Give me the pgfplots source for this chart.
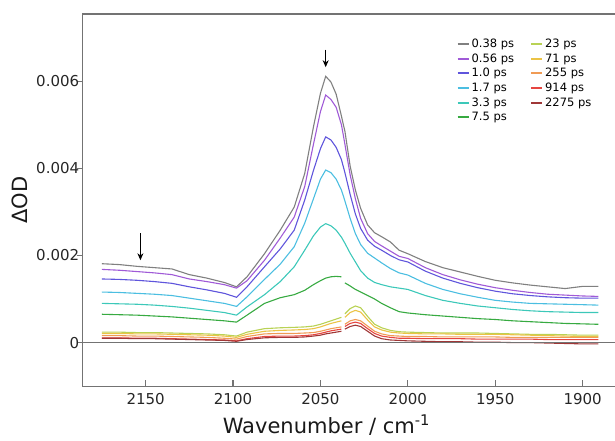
\documentclass[border=0pt]{standalone}
\usepackage{fontspec}
\setmainfont{DejaVu Sans}
\usepackage{pgfplots}
\pgfplotsset{compat=1.18}
\usepackage{pgfplotstable}
\usetikzlibrary{arrows.meta}

\definecolor{cA}{RGB}{128,128,128}
\definecolor{cB}{RGB}{160,90,215}
\definecolor{cC}{RGB}{95,85,220}
\definecolor{cD}{RGB}{75,190,225}
\definecolor{cE}{RGB}{60,200,185}
\definecolor{cF}{RGB}{55,170,65}
\definecolor{cG}{RGB}{185,210,85}
\definecolor{cH}{RGB}{235,195,70}
\definecolor{cI}{RGB}{240,155,85}
\definecolor{cJ}{RGB}{230,70,65}
\definecolor{cK}{RGB}{160,55,55}
\definecolor{frame}{RGB}{115,115,115}

% transient IR spectra, one column per delay
\pgfplotstableread{
x     a       b       c       d       e       f       g       h       i       j       k
2175  0.00181 0.00168 0.00146 0.00116 0.00090 0.00065 0.00024 0.00021 0.00016 0.00011 0.00010
2165  0.00179 0.00166 0.00145 0.00115 0.00089 0.00064 0.00024 0.00021 0.00016 0.00011 0.00010
2155  0.00175 0.00163 0.00143 0.00113 0.00088 0.00063 0.00023 0.00020 0.00015 0.00010 0.00009
2145  0.00172 0.00160 0.00140 0.00111 0.00086 0.00061 0.00023 0.00020 0.00015 0.00010 0.00009
2135  0.00169 0.00156 0.00136 0.00108 0.00083 0.00059 0.00022 0.00019 0.00014 0.00009 0.00008
2125  0.00156 0.00146 0.00128 0.00102 0.00079 0.00056 0.00021 0.00018 0.00013 0.00008 0.00007
2115  0.00148 0.00140 0.00121 0.00096 0.00074 0.00053 0.00020 0.00017 0.00012 0.00007 0.00006
2105  0.00138 0.00133 0.00113 0.00090 0.00069 0.00050 0.00018 0.00015 0.00010 0.00006 0.00005
2098  0.00128 0.00125 0.00104 0.00083 0.00063 0.00047 0.00015 0.00012 0.00008 0.00004 0.00003
2092  0.00151 0.00142 0.00128 0.00105 0.00082 0.00063 0.00024 0.00019 0.00014 0.00009 0.00007
2082  0.00204 0.00189 0.00174 0.00145 0.00110 0.00090 0.00032 0.00026 0.00020 0.00014 0.00011
2073  0.00258 0.00240 0.00215 0.00180 0.00140 0.00103 0.00034 0.00028 0.00021 0.00015 0.00012
2065  0.00311 0.00288 0.00258 0.00220 0.00174 0.00110 0.00035 0.00029 0.00021 0.00015 0.00012
2059  0.00388 0.00358 0.00327 0.00274 0.00212 0.00120 0.00036 0.00030 0.00022 0.00016 0.00013
2054  0.00495 0.00455 0.00395 0.00330 0.00245 0.00133 0.00038 0.00032 0.00023 0.00018 0.00015
2050  0.00572 0.00530 0.00445 0.00375 0.00265 0.00142 0.00042 0.00036 0.00026 0.00021 0.00017
2047  0.00611 0.00568 0.00472 0.00396 0.00273 0.00148 0.00046 0.00040 0.00029 0.00024 0.00020
2044  0.00598 0.00558 0.00465 0.00390 0.00268 0.00151 0.00050 0.00044 0.00032 0.00027 0.00022
2041  0.00570 0.00540 0.00448 0.00375 0.00258 0.00152 0.00054 0.00047 0.00034 0.00029 0.00024
2038  0.00520 0.00500 0.00420 0.00350 0.00242 0.00151 0.00058 0.00050 0.00036 0.00031 0.00026
2037  0.00502 0.00478 0.00405 0.00338 0.00235 nan     nan     nan     nan     nan     nan
2036  0.00485 0.00455 0.00390 0.00325 0.00228 0.00137 0.00066 0.00058 0.00042 0.00037 0.00031
2033  0.00405 0.00385 0.00340 0.00285 0.00205 0.00130 0.00078 0.00069 0.00050 0.00044 0.00037
2030  0.00350 0.00330 0.00295 0.00250 0.00185 0.00122 0.00084 0.00074 0.00053 0.00047 0.00040
2027  0.00308 0.00285 0.00262 0.00225 0.00165 0.00116 0.00080 0.00070 0.00050 0.00044 0.00037
2023  0.00270 0.00250 0.00235 0.00205 0.00148 0.00108 0.00060 0.00052 0.00038 0.00032 0.00026
2019  0.00252 0.00232 0.00221 0.00194 0.00138 0.00100 0.00042 0.00036 0.00026 0.00021 0.00015
2015  0.00243 0.00222 0.00212 0.00183 0.00133 0.00090 0.00034 0.00029 0.00020 0.00015 0.00009
2010  0.00231 0.00210 0.00200 0.00170 0.00128 0.00080 0.00028 0.00024 0.00016 0.00012 0.00006
2005  0.00212 0.00198 0.00190 0.00160 0.00125 0.00071 0.00025 0.00022 0.00015 0.00010 0.00005
2000  0.00204 0.00193 0.00185 0.00155 0.00122 0.00068 0.00024 0.00021 0.00014 0.00010 0.00004
1990  0.00186 0.00172 0.00164 0.00136 0.00108 0.00064 0.00023 0.00020 0.00014 0.00009 0.00003
1980  0.00172 0.00156 0.00148 0.00122 0.00097 0.00061 0.00022 0.00020 0.00013 0.00009 0.00002
1970  0.00162 0.00144 0.00136 0.00112 0.00090 0.00058 0.00022 0.00019 0.00013 0.00009 0.00002
1960  0.00152 0.00134 0.00126 0.00104 0.00084 0.00055 0.00022 0.00019 0.00013 0.00008 0.00001
1950  0.00143 0.00126 0.00118 0.00097 0.00080 0.00053 0.00021 0.00019 0.00013 0.00008 0.00001
1940  0.00137 0.00120 0.00112 0.00093 0.00076 0.00050 0.00020 0.00018 0.00012 0.00008 0.00000
1930  0.00132 0.00115 0.00108 0.00090 0.00073 0.00048 0.00019 0.00017 0.00012 0.00008 0.00000
1920  0.00128 0.00111 0.00105 0.00089 0.00071 0.00046 0.00019 0.00016 0.00012 0.00007 -0.00001
1910  0.00124 0.00109 0.00103 0.00088 0.00070 0.00044 0.00018 0.00015 0.00012 0.00007 -0.00002
1900  0.00129 0.00107 0.00102 0.00087 0.00069 0.00043 0.00017 0.00014 0.00012 0.00007 -0.00003
1891  0.00129 0.00106 0.00102 0.00086 0.00069 0.00042 0.00017 0.00014 0.00012 0.00007 -0.00003
}\spectra

\begin{document}
\begin{tikzpicture}
\begin{axis}[
  scale only axis,
  width=533pt, height=372pt,
  x dir=reverse,
  xmin=1880.9, xmax=2186,
  ymin=-0.001, ymax=0.00754,
  axis line style={frame, line width=1.3pt},
  tick style={frame, line width=1.1pt},
  tick align=inside,
  major tick length=6pt,
  xtick pos=bottom, ytick pos=left,
  y tick style={xshift=-6pt},
  xtick={1900,1950,2000,2050,2100,2150},
  ytick={0,0.002,0.004,0.006},
  yticklabels={0,0.002,0.004,0.006},
  scaled y ticks=false,
  /pgf/number format/1000 sep={},
  /pgf/number format/assume math mode=true,
  tick label style={font=\fontsize{15}{18}\selectfont, text=black!85},
  xticklabel style={yshift=-4pt},
  xlabel={Wavenumber / cm\textsuperscript{-1}},
  ylabel={ΔOD},
  label style={font=\fontsize{21}{25}\selectfont, text=black!90},
  xlabel style={at={(axis description cs:0.457,0)}, anchor=base, yshift=-47pt},
  ylabel style={at={(axis description cs:-0.1175,0.5)}, anchor=center},
  unbounded coords=jump,
  legend cell align=left,
  legend columns=2,
  legend image code/.code={\draw[#1, line width=2pt] (0pt,0pt) -- (11pt,0pt);},
  legend style={draw=none, fill=none, font=\fontsize{11.5}{13}\selectfont,
    at={(axis description cs:0.695,0.944)}, anchor=north west,
    row sep=0.6pt,
    /tikz/every even column/.append style={column sep=14pt}},
  every axis plot/.append style={line width=1.1pt},
]
% plotted in legend order (row by row, two columns)
\addplot[cA] table[y=a] {\spectra};
\addlegendentry{0.38 ps}
\addplot[cG] table[y=g] {\spectra};
\addlegendentry{23 ps}
\addplot[cB] table[y=b] {\spectra};
\addlegendentry{0.56 ps}
\addplot[cH] table[y=h] {\spectra};
\addlegendentry{71 ps}
\addplot[cC] table[y=c] {\spectra};
\addlegendentry{1.0 ps}
\addplot[cI] table[y=i] {\spectra};
\addlegendentry{255 ps}
\addplot[cD] table[y=d] {\spectra};
\addlegendentry{1.7 ps}
\addplot[cJ] table[y=j] {\spectra};
\addlegendentry{914 ps}
\addplot[cE] table[y=e] {\spectra};
\addlegendentry{3.3 ps}
\addplot[cK] table[y=k] {\spectra};
\addlegendentry{2275 ps}
\addplot[cF] table[y=f] {\spectra};
\addlegendentry{7.5 ps}
% zero line
\addplot[frame, line width=0.9pt, forget plot] coordinates {(2186,0) (1880.9,0)};
% arrows marking the probed positions
\draw[-{Stealth[length=7pt,width=6pt]}, line width=1pt] (axis cs:2153,0.00251) -- (axis cs:2153,0.00189);
\draw[-{Stealth[length=7pt,width=6pt]}, line width=1pt] (axis cs:2047,0.00672) -- (axis cs:2047,0.00632);
\end{axis}
\pgfresetboundingbox
\path[use as bounding box] ([shift={(-82.7pt,-54pt)}]current axis.south west) rectangle ([shift={(-1pt,14pt)}]current axis.north east);
\end{tikzpicture}
\end{document}
